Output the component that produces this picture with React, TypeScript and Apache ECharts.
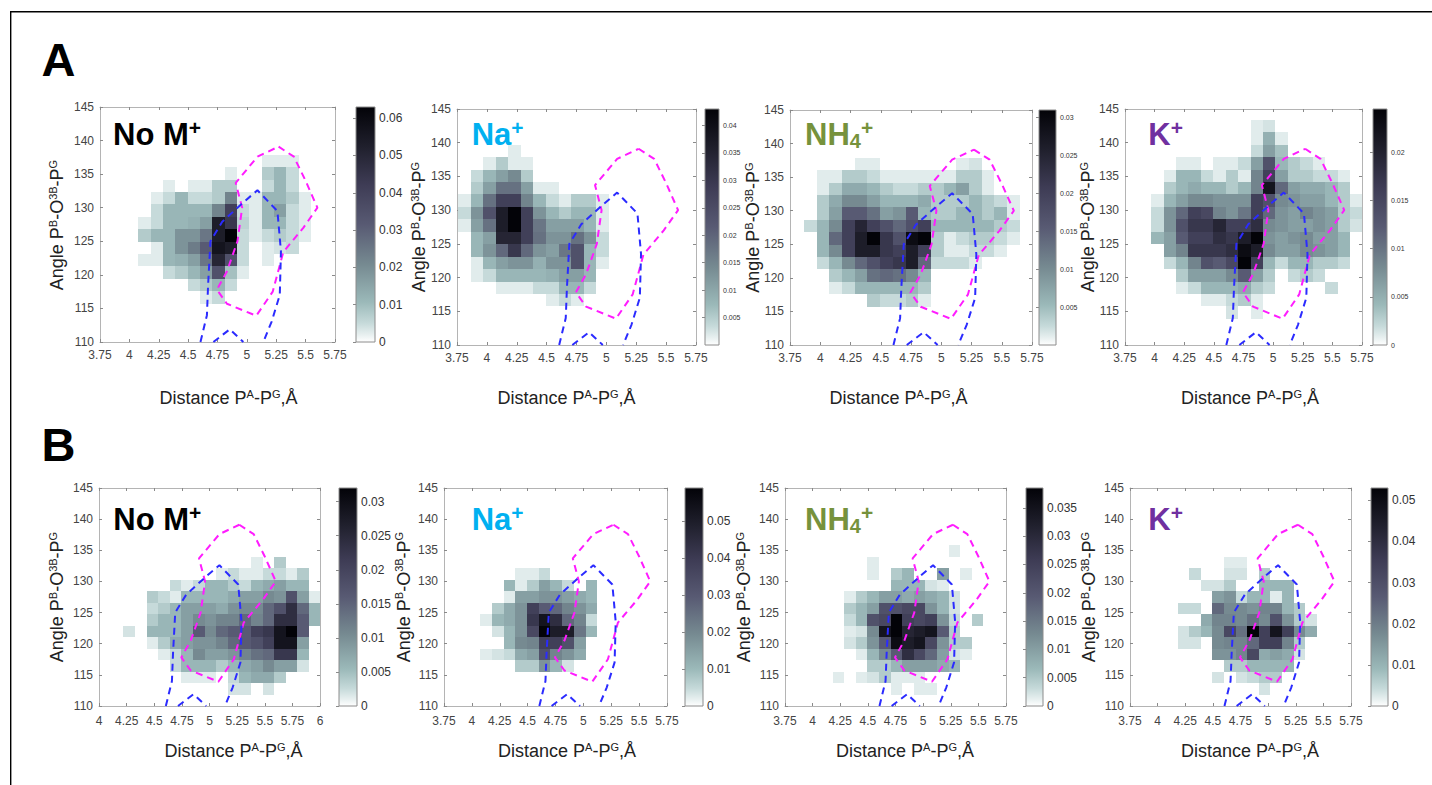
import React, { useEffect, useRef } from "react";
import * as echarts from "echarts";

const FONT = "'Liberation Sans', Arial, Helvetica, sans-serif";

// histogram bin sizes (Å, degrees)
const BIN_DX = 0.105;
const BIN_DY = 1.845;

const Y_MIN = 110;
const Y_MAX = 145;
const Y_STEP = 5;
const X_STEP = 0.25;

// dashed reference contours (distance Å, angle °)
const magentaContour = [[5.27,139.1],[5.40,137.6],[5.50,134.0],[5.60,130.0],[5.48,127.0],[5.31,123.4],[5.22,117.5],[5.08,113.9],[4.83,115.7],[4.745,117.8],[4.83,120.5],[4.92,125.0],[4.96,130.0],[4.905,133.7],[5.09,137.6],[5.27,139.1]];
const blueContour = [[4.605,110],[4.66,114.0],[4.67,118.5],[4.69,125.0],[4.79,127.9],[4.97,130.8],[5.09,132.6],[5.26,129.5],[5.29,123.5],[5.28,117.0],[5.21,113.0],[5.14,110]];
const blueContour2 = [[4.715,110],[4.855,111.9],[4.97,110]];

// panel titles
const panelNames = ["No M", "Na", "NH", "K"];
const panelColors = ["#000000", "#00B0F0", "#76923C", "#7030A0"];

// colorbar ranges
const colorbarMaxA = [0.063, 0.043, 0.031, 0.0245];
const colorbarStepA = [0.01, 0.005, 0.005, 0.005];
const colorbarMaxB = [0.032, 0.059, 0.0385, 0.053];
const colorbarStepB = [0.005, 0.01, 0.005, 0.01];

// x axis ranges
const xRangeA = [[3.75, 5.75], [3.75, 5.75], [3.75, 5.75], [3.75, 5.75]];
const xRangeB = [[4, 6], [3.75, 5.75], [3.75, 5.75], [3.75, 5.75]];

// first bin edge (x) and top bin edge (y)
const binX0A = [3.76, 3.76, 3.76, 3.76];
const binX0B = [4.01, 3.76, 3.76, 3.76];
const binTopA = 143.4;
const binTopB = 143.2;

// relative density (tenths of colorbar max); rows from top bin downward, columns from first bin
const a1Rel = [
[0,0,0,0,0,0,0,0,0,0,0,0,0,0,0,0,0,0,0],
[0,0,0,0,0,0,0,0,0,0,0,0,0,0,0,0,0,0,0],
[0,0,0,0,0,0,0,0,0,0,0,0,0,0,0,0,0,0,0],
[0,0,0,0,0,0,0,0,0,0,0,0,0,.4,.4,.4,0,0,0],
[0,0,0,0,0,0,0,0,0,0,.4,0,0,1.2,1.8,.8,0,0,0],
[0,0,0,0,0,.4,0,.4,.4,1.2,1.2,0,0,.8,1.8,.8,0,0,0],
[0,0,0,0,.4,.8,1.8,.8,.8,1.2,3.5,.4,.4,1.8,1.8,1.2,.4,0,0],
[0,0,0,0,.8,1.8,1.8,1.8,1.8,3.5,6.5,.8,.4,1.8,2.6,.8,.4,0,0],
[0,0,0,.4,.8,1.8,1.8,2,2.6,8.5,7,1,.4,1.8,1.8,.8,.4,0,0],
[0,0,0,1.2,1.8,1.8,3,3,4,8.5,10,.8,.4,.8,1.2,.8,.4,0,0],
[0,0,0,0,.4,1.8,3,3.8,5,9,8.5,.8,0,.4,.6,.8,0,0,0],
[0,0,0,.4,.4,1.8,2,2.6,4,8,5.5,.8,0,.4,0,0,0,0,0],
[0,0,0,0,0,.8,1.2,1.8,2.6,5.5,1.5,.4,0,0,0,0,0,0,0],
[0,0,0,0,0,0,0,.8,1.2,1.8,.8,0,0,0,0,0,0,0,0],
[0,0,0,0,0,0,0,0,.4,.8,0,0,0,0,0,0,0,0,0],
];

const a2Rel = [
[0,0,0,0,0,0,0,0,0,0,0,0,0,0,0,0,0,0,0],
[0,0,0,0,0,0,0,0,0,0,0,0,0,0,0,0,0,0,0],
[0,0,0,0,.4,0,0,0,0,0,0,0,0,0,0,0,0,0,0],
[0,0,.4,1.2,.4,.4,0,0,0,0,0,0,0,0,0,0,0,0,0],
[0,.8,1.8,2.6,3.3,1.2,0,0,0,0,0,0,0,0,0,0,0,0,0],
[0,1.2,2.6,4.2,4.2,2.6,.4,.4,0,0,0,0,0,0,0,0,0,0,0],
[.4,1.8,4.2,6.5,6.5,3.5,1.8,.8,.4,1.2,1.2,.4,0,0,0,0,0,0,0],
[.8,3,5.5,8.5,10,6.5,3,1.8,1.2,1.8,1.8,.4,0,0,0,0,0,0,0],
[.4,2.6,4.2,8.5,10,6.5,4,2.6,2.6,2.6,1.8,.4,0,0,0,0,0,0,0],
[0,1.8,2.6,8,8,6.5,4.2,3,3,4.2,3,.8,0,0,0,0,0,0,0],
[0,1.8,3,4.5,7,4.5,3,2.6,4,5.5,1.8,.8,0,0,0,0,0,0,0],
[0,.4,1.8,2.6,3,3,2,3,3,5.5,1.8,.4,0,0,0,0,0,0,0],
[0,.4,.8,1.8,1.8,1.8,1.8,2,2.6,2.6,1.8,0,0,0,0,0,0,0,0],
[0,0,0,.4,.4,.4,.8,.8,1.8,1.8,.8,0,0,0,0,0,0,0,0],
[0,0,0,0,0,0,0,.4,.8,.4,0,0,0,0,0,0,0,0,0],
];

const a3Rel = [
[0,0,0,0,0,0,0,0,0,0,0,0,0,0,0,0,0,0,0],
[0,0,0,0,0,0,0,0,0,0,0,0,0,0,0,0,0,0,0],
[0,0,0,0,0,0,0,0,0,0,0,0,0,0,0,0,0,0,0],
[0,0,0,0,0,.4,.4,0,0,0,0,0,0,.4,.6,0,0,0,0],
[0,0,.4,.4,1.2,1.2,.8,.4,.4,.4,.4,.4,.4,1.2,1.2,.4,0,0,0],
[0,0,.4,1.2,2.2,2.2,1.8,1.2,.8,.8,1.2,1.2,1.8,2.6,1.2,.4,0,0,0],
[0,0,1.2,2.2,3.3,3.3,2.6,1.8,1.8,1.8,2.2,1.2,1.2,1.2,1.8,1.2,.8,.4,0],
[0,0,1.2,2.6,5,5,4.2,2.6,3,5,1.8,1.2,1.2,1.8,1.8,1.2,1.8,.4,0],
[0,.8,1.8,3.3,6.5,8,6.5,5.5,4.5,5.5,6.5,1.8,1.8,1.8,1.8,1.8,1.2,.8,0],
[0,0,1.8,4.5,6.5,8.5,10,7,5.5,9.5,10,1.2,.4,.8,1.2,1.2,.8,.4,0],
[0,0,1.8,3.3,6.5,8.5,8.5,7,6.5,8.5,6.5,1.2,.4,.4,.8,.8,.4,0,0],
[0,0,.8,1.8,3.3,4.5,5.5,6.5,7,8.5,4.5,.8,.8,.8,.4,0,0,0,0],
[0,0,0,1.2,1.8,2.6,4.2,4.5,4.2,3.3,1.8,0,0,0,0,0,0,0,0],
[0,0,0,.4,.8,1.8,1.8,1.8,1.8,1.8,1.2,0,0,0,0,0,0,0,0],
[0,0,0,0,0,0,1.2,.8,.8,1.2,.4,0,0,0,0,0,0,0,0],
];

const a4Rel = [
[0,0,0,0,0,0,0,0,0,0,.4,.6,0,0,0,0,0,0,0],
[0,0,0,0,0,0,0,0,0,0,.4,2,.4,0,0,0,0,0,0],
[0,0,0,0,0,0,0,0,0,0,.8,2.6,1.5,0,0,0,0,0,0],
[0,0,0,0,.4,.4,0,.4,.4,.8,2.6,5.5,1.8,1.2,.8,.4,0,0,0],
[0,0,0,.4,1.8,1.8,.8,.4,1.2,.4,3.5,6.5,2.6,1.2,1.2,.8,.8,.4,0],
[0,0,0,1.2,1.8,2.2,1.8,1.8,1.2,1.8,3.5,9,4.5,2.6,2.2,2.2,1.8,1.2,0],
[0,0,.4,1.8,2.6,3.3,3.3,3,3,3,6.5,5.5,3.3,3,2.6,2.6,1.8,1.2,.4],
[0,0,.8,3,4.5,6.5,6,3.5,3,4,6.5,4.5,3,2.6,3.5,3,2.6,1.2,.8],
[0,0,.8,3,5.5,7,7,8,6.5,6.5,7.5,3.3,3,2.6,2.6,3,2.6,1.2,.6],
[0,0,1.8,2.6,5,6.5,6.5,7.5,7,8.5,10,3,2.6,3,3.3,2.6,2.6,1.8,0],
[0,0,0,2.6,3.5,7,7,7,7.5,9.5,8.5,3.3,2.6,2.6,3.3,3,2.6,1.8,0],
[0,0,0,.8,1.8,3.5,5.5,5,6,10,6.5,1.8,.8,1.8,1.8,1.2,1.2,.8,0],
[0,0,0,0,1.2,2.6,2.6,2.6,3.3,5,2.6,1.2,0,.8,1.2,.8,0,0,0],
[0,0,0,0,.4,.8,1.8,1.8,1.8,2.2,1.2,.8,0,0,0,0,.8,0,0],
[0,0,0,0,0,0,.4,.4,.8,1.2,.4,0,0,0,0,0,0,0,0],
[0,0,0,0,0,0,0,0,.6,0,.4,0,0,0,0,0,0,0,0],
];

const b1Rel = [
[0,0,0,0,0,0,0,0,0,0,0,0,0,0,0,0,0,0,0],
[0,0,0,0,0,0,0,0,0,0,0,0,0,0,0,0,0,0,0],
[0,0,0,0,0,0,0,0,0,0,0,0,0,0,0,0,0,0,0],
[0,0,0,0,0,0,0,0,0,0,0,0,0,0,0,0,0,0,0],
[0,0,0,0,0,0,0,0,0,0,0,0,0,0,0,0,0,0,0],
[0,0,0,0,0,0,0,0,0,0,0,0,0,.4,0,1.2,0,0,0],
[0,0,0,0,0,0,0,0,0,0,.4,.8,.4,.4,.8,.8,.4,1.2,0],
[0,0,0,0,0,0,.8,.4,.8,1.8,1.8,1.2,.8,1.8,2.2,2.6,1.8,1.8,0],
[0,0,0,0,1.2,.8,.4,1.8,1.8,1.8,1.8,2.2,2.6,2.6,3.3,3,5.5,2.6,.4],
[0,0,0,0,.8,1.2,1.8,2.6,2.6,2.6,2.2,3,3.3,3.3,4.5,5.5,7.5,4.5,1.8],
[0,0,0,0,1.2,1.8,1.8,2.6,3.3,3,3.5,3.5,4.5,3.5,4.5,7.5,7.5,5,1.8],
[0,0,.6,0,1.8,1.8,1.8,2.6,5,3.3,4.5,5,5,6.5,7,9,10,5,0],
[0,0,0,0,.4,1.2,2.2,2.6,3,3,3.5,4.5,5,5.5,6.5,9,9,2.6,0],
[0,0,0,0,0,.4,.8,1.8,3.3,2.6,2.6,3,3.5,4.2,4.5,7,7,1.8,0],
[0,0,0,0,0,0,.8,1.8,1.8,1.8,1.2,1.8,2.2,2.6,3.3,2.6,2.6,.6,0],
[0,0,0,0,0,0,0,.4,.4,.4,0,.8,1.8,2.2,2.2,1.2,0,0,0],
[0,0,0,0,0,0,0,0,0,0,0,.6,.6,0,.6,0,0,0,0],
];

const b2Rel = [
[0,0,0,0,0,0,0,0,0,0,0,0,0,0,0,0,0,0,0],
[0,0,0,0,0,0,0,0,0,0,0,0,0,0,0,0,0,0,0],
[0,0,0,0,0,0,0,0,0,0,0,0,0,0,0,0,0,0,0],
[0,0,0,0,0,0,0,0,0,0,0,0,0,0,0,0,0,0,0],
[0,0,0,0,0,0,0,0,0,0,0,0,0,0,0,0,0,0,0],
[0,0,0,0,0,0,0,0,0,0,0,0,0,0,0,0,0,0,0],
[0,0,0,0,0,0,.4,.4,.8,0,0,0,0,0,0,0,0,0,0],
[0,0,0,0,0,1.8,.4,1.2,2.6,1.8,.8,0,1.8,0,0,0,0,0,0],
[0,0,0,0,0,.4,2.6,2.6,3,3,2.6,2.2,1.8,0,0,0,0,0,0],
[0,0,0,0,1.2,2.2,3,6.5,5,4.5,3.5,3,2.2,0,0,0,0,0,0],
[0,0,0,.4,1.8,2.2,3,7,9,7.5,4.5,3.5,.8,0,0,0,0,0,0],
[0,0,0,0,.6,1.8,3,6,10,8.5,8.5,4,1.8,0,0,0,0,0,0],
[0,0,0,0,0,1.8,3.3,3.5,6.5,6.5,5.5,2.6,0,0,0,0,0,0,0],
[0,0,0,.4,.6,.8,2.2,2.6,5.5,3.5,3,2.2,0,0,0,0,0,0,0],
[0,0,0,0,0,0,1.2,1.2,3,1.8,.6,0,0,0,0,0,0,0,0],
];

const b3Rel = [
[0,0,0,0,0,0,0,0,0,0,0,0,0,0,0,0,0,0,0],
[0,0,0,0,0,0,0,0,0,0,0,0,0,0,0,0,0,0,0],
[0,0,0,0,0,0,0,0,0,0,0,0,0,0,0,0,0,0,0],
[0,0,0,0,0,0,0,0,0,0,0,0,0,0,0,0,0,0,0],
[0,0,0,0,0,0,0,0,0,0,0,0,0,0,.4,0,0,0,0],
[0,0,0,0,0,0,0,.4,0,0,0,0,0,0,0,0,0,0,0],
[0,0,0,0,0,0,0,.4,0,1.2,1.8,0,0,2.6,0,.4,0,0,0],
[0,0,0,0,0,0,0,0,0,1.8,1.8,1.8,.6,.4,0,0,0,0,0],
[0,0,0,0,0,.4,1.2,1.8,2.6,2.6,2.2,2.6,2.2,1.8,.6,0,0,0,0],
[0,0,0,0,0,1.2,1.8,2.6,5.5,5.5,6,6,3,1.8,.6,0,0,0,0],
[0,0,0,0,0,.8,1.8,5.5,6,10,6.5,6,6.5,3,.8,0,1.2,0,0],
[0,0,0,0,0,.4,.6,3.3,9,10,8,8.5,9,5,1.2,0,0,0,0],
[0,0,0,0,0,.6,1.2,3,5,9.5,8.5,9,6,3,1.2,1.2,0,0,0],
[0,0,0,0,0,0,.4,1.8,3.3,5,7.5,6,4.5,2.6,.6,.4,0,0,0],
[0,0,0,0,0,0,0,1.2,1.2,1.8,2.6,2.6,2.6,2.2,1.8,0,0,0,0],
[0,0,0,0,.4,0,.4,.6,1.2,.4,.4,.4,0,0,0,0,0,0,0],
[0,0,0,0,0,0,0,0,0,.4,0,.4,.4,0,0,0,0,0,0],
];

const b4Rel = [
[0,0,0,0,0,0,0,0,0,0,0,0,0,0,0,0,0,0,0],
[0,0,0,0,0,0,0,0,0,0,0,0,0,0,0,0,0,0,0],
[0,0,0,0,0,0,0,0,0,0,0,0,0,0,0,0,0,0,0],
[0,0,0,0,0,0,0,0,0,0,0,0,0,0,0,0,0,0,0],
[0,0,0,0,0,0,0,0,0,0,0,0,0,0,0,0,0,0,0],
[0,0,0,0,0,0,0,0,.4,.4,0,0,0,0,0,0,0,0,0],
[0,0,0,0,0,.8,0,0,.6,.6,0,1.2,0,0,0,0,0,0,0],
[0,0,0,0,0,0,.6,.6,1.2,0,0,1.8,1.8,1.8,0,0,0,0,0],
[0,0,0,0,0,0,0,2.6,3,.8,1.8,1.8,.4,1.8,0,0,0,0,0],
[0,0,0,0,.8,.8,0,4.5,3.3,3.3,3,3.5,3.5,1.8,1.2,0,0,0,0],
[0,0,0,0,0,0,2.2,3.5,3.5,3.3,4.2,3.3,5.5,3,1.2,.6,0,0,0],
[0,0,0,0,.6,1.2,1.8,3.3,6,4.2,10,6.5,9,6.5,3.3,2.2,0,0,0],
[0,0,0,0,.6,.6,0,3.3,3.5,3.5,4.5,6.5,6.5,3.5,1.2,0,0,0,0],
[0,0,0,0,0,0,0,3,3,3.5,6,2.2,2.6,2.2,.6,0,0,0,0],
[0,0,0,0,0,0,0,0,1.2,1.2,1.8,1.8,1.8,1.8,0,0,0,0,0],
[0,0,0,0,0,0,0,.6,0,.6,.8,1.2,1.2,0,0,0,0,0,0],
[0,0,0,0,0,0,0,0,0,0,0,.6,0,0,0,0,0,0,0],
];

// colormap (inverted bone-like)
const CMAP: [number, number[]][] = [
  [0, [255, 255, 255]],
  [0.03, [232, 240, 240]],
  [0.08, [198, 218, 218]],
  [0.17, [155, 185, 185]],
  [0.33, [118, 138, 145]],
  [0.5, [88, 90, 115]],
  [0.67, [62, 60, 85]],
  [0.83, [32, 32, 45]],
  [1, [3, 3, 8]],
];

function rgb(c: number[]) {
  return `rgb(${Math.round(c[0])},${Math.round(c[1])},${Math.round(c[2])})`;
}
function cmap(t: number): string {
  const v = Math.max(0, Math.min(1, t));
  for (let i = 1; i < CMAP.length; i++) {
    const [t0, c0] = CMAP[i - 1];
    const [t1, c1] = CMAP[i];
    if (v <= t1) {
      const f = (v - t0) / (t1 - t0);
      return rgb([0, 1, 2].map((k) => c0[k] + (c1[k] - c0[k]) * f));
    }
  }
  return rgb(CMAP[CMAP.length - 1][1]);
}

// layout (pixels)
const LAYOUT = [
  { l: 100, t: 107, w: 235, h: 235, cl: 356, cw: 19, cfs: 12, zero: true, tx: 113, ty: 134.3, xt: [228.5, 398], yt: [57, 225], xm: 7 },
  { l: 457, t: 109, w: 239, h: 236, cl: 705, cw: 14, cfs: 7, zero: false, tx: 471.7, ty: 134.3, xt: [566.5, 398], yt: [419, 227], xm: 7 },
  { l: 790, t: 110, w: 242, h: 235, cl: 1039, cw: 17, cfs: 7, zero: false, tx: 805, ty: 134.3, xt: [898.5, 398], yt: [753, 227.5], xm: 7 },
  { l: 1125, t: 109, w: 237, h: 236, cl: 1373, cw: 14, cfs: 7, zero: true, tx: 1148.3, ty: 134.3, xt: [1250, 398], yt: [1088, 227], xm: 7 },
  { l: 99, t: 488, w: 221, h: 218, cl: 339, cw: 18, cfs: 12, zero: true, tx: 113.3, ty: 519.3, xt: [233.5, 751], yt: [57, 597], xm: 9 },
  { l: 444, t: 488, w: 223, h: 218, cl: 685, cw: 18, cfs: 12, zero: true, tx: 471.7, ty: 519.3, xt: [567, 751], yt: [403.5, 597], xm: 9 },
  { l: 785, t: 488, w: 221, h: 218, cl: 1026, cw: 17, cfs: 12, zero: true, tx: 805, ty: 519.3, xt: [905, 751], yt: [744, 597], xm: 9 },
  { l: 1130, t: 488, w: 221, h: 218, cl: 1371, cw: 17, cfs: 12, zero: true, tx: 1148.3, ty: 519.3, xt: [1250, 751], yt: [1089, 597], xm: 9 },
];

const AXIS_COLOR = "#b4b4b4";
const TICK_COLOR = "#8a8a8a";
const LABEL_COLOR = "#444";

function buildCells(rel: number[][], x0: number, top0: number, max: number) {
  const out: number[][] = [];
  rel.forEach((row, r) =>
    row.forEach((v, c) => {
      if (v > 0) out.push([x0 + c * BIN_DX, top0 - (r + 1) * BIN_DY, (v * max) / 10]);
    })
  );
  return out;
}

function buildOption() {
  const relAll = [a1Rel, a2Rel, a3Rel, a4Rel, b1Rel, b2Rel, b3Rel, b4Rel];
  const panels = relAll.map((rel, i) => {
    const isA = i < 4;
    const k = i % 4;
    return {
      rel,
      kind: k,
      max: isA ? colorbarMaxA[k] : colorbarMaxB[k],
      step: isA ? colorbarStepA[k] : colorbarStepB[k],
      xr: isA ? xRangeA[k] : xRangeB[k],
      x0: isA ? binX0A[k] : binX0B[k],
      top0: isA ? binTopA : binTopB,
    };
  });

  const grid: any[] = [];
  const xAxis: any[] = [];
  const yAxis: any[] = [];
  const series: any[] = [];
  const graphic: any[] = [];

  const gradStops = CMAP.map(([t, c]) => ({ offset: 1 - t, color: rgb(c) })).reverse();

  panels.forEach((p, i) => {
    const L = LAYOUT[i];
    const gi = grid.length;
    grid.push({ left: L.l, top: L.t, width: L.w, height: L.h, outerBoundsMode: "none", containLabel: false });
    const baseX = {
      gridIndex: gi,
      type: "value",
      min: p.xr[0],
      max: p.xr[1],
      interval: X_STEP,
      splitLine: { show: false },
      axisLine: { show: true, onZero: false, lineStyle: { color: AXIS_COLOR, width: 1 } },
      axisTick: { show: true, inside: true, length: 3, lineStyle: { color: TICK_COLOR } },
    };
    const baseY = {
      gridIndex: gi,
      type: "value",
      min: Y_MIN,
      max: Y_MAX,
      interval: Y_STEP,
      splitLine: { show: false },
      axisLine: { show: true, onZero: false, lineStyle: { color: AXIS_COLOR, width: 1 } },
      axisTick: { show: true, inside: true, length: 3, lineStyle: { color: TICK_COLOR } },
    };
    const xi = xAxis.length;
    xAxis.push({ ...baseX, position: "bottom", axisLabel: { fontSize: 12, color: LABEL_COLOR, fontFamily: FONT, margin: L.xm } });
    xAxis.push({ ...baseX, position: "top", axisLabel: { show: false } });
    const yi = yAxis.length;
    yAxis.push({ ...baseY, position: "left", axisLabel: { fontSize: 12, color: LABEL_COLOR, fontFamily: FONT, margin: 6 } });
    yAxis.push({ ...baseY, position: "right", axisLabel: { show: false } });

    const max = p.max;
    series.push({
      type: "custom",
      xAxisIndex: xi,
      yAxisIndex: yi,
      data: buildCells(p.rel, p.x0, p.top0, max),
      z: 2,
      silent: true,
      renderItem: (params: any, api: any) => {
        const x = api.value(0);
        const y = api.value(1);
        const v = api.value(2);
        const p0 = api.coord([x, y + BIN_DY]);
        const p1 = api.coord([x + BIN_DX, y]);
        const x0 = Math.round(p0[0]);
        const x1 = Math.round(p1[0]);
        const y0 = Math.round(p0[1]);
        const y1 = Math.round(p1[1]);
        const cs = params.coordSys;
        const shape = echarts.graphic.clipRectByRect(
          { x: x0, y: y0, width: x1 - x0, height: y1 - y0 },
          { x: cs.x, y: cs.y, width: cs.width, height: cs.height }
        );
        if (!shape) return null;
        return { type: "rect", shape, style: { fill: cmap(v / max) } };
      },
    });
    const lineCommon = {
      type: "line",
      xAxisIndex: xi,
      yAxisIndex: yi,
      showSymbol: false,
      symbol: "none",
      clip: true,
      silent: true,
      z: 4,
    };
    series.push({ ...lineCommon, data: magentaContour, lineStyle: { color: "#ff1cff", width: 2, type: [7, 5] } });
    series.push({ ...lineCommon, data: blueContour, lineStyle: { color: "#2b2bff", width: 2, type: [7, 5] } });
    series.push({ ...lineCommon, data: blueContour2, lineStyle: { color: "#2b2bff", width: 2, type: [7, 5] } });

    // colorbar
    const ci = grid.length;
    grid.push({ left: L.cl, top: L.t, width: L.cw, height: L.h, outerBoundsMode: "none", containLabel: false });
    const cxi = xAxis.length;
    xAxis.push({ gridIndex: ci, type: "value", min: 0, max: 1, show: false });
    const cyi = yAxis.length;
    yAxis.push({
      gridIndex: ci,
      type: "value",
      min: 0,
      max: p.max,
      interval: p.step,
      position: "right",
      splitLine: { show: false },
      axisLine: { show: false },
      axisTick: { show: true, inside: true, length: 3, lineStyle: { color: TICK_COLOR } },
      axisLabel: {
        fontSize: L.cfs,
        color: "#333",
        fontFamily: FONT,
        margin: 4,
        showMaxLabel: false,
        showMinLabel: L.zero,
      },
    });
    series.push({
      type: "custom",
      xAxisIndex: cxi,
      yAxisIndex: cyi,
      data: [[0, p.max]],
      silent: true,
      z: 1,
      renderItem: (params: any, api: any) => {
        const p0 = api.coord([0, api.value(1)]);
        const p1 = api.coord([1, 0]);
        return {
          type: "rect",
          shape: { x: p0[0], y: p0[1], width: p1[0] - p0[0], height: p1[1] - p0[1] },
          style: {
            fill: new echarts.graphic.LinearGradient(0, 0, 0, 1, gradStops),
            stroke: "#8c8c8c",
            lineWidth: 1,
          },
        };
      },
    });

    // panel title
    const color = panelColors[p.kind];
    const mainStyle = { fontSize: 31, fontWeight: "bold", fontFamily: FONT, fill: color, color, lineHeight: 34 };
    const supStyle = { fontSize: 21, fontWeight: "bold", fontFamily: FONT, fill: color, color, lineHeight: 26, verticalAlign: "top" };
    const subStyle = { fontSize: 20, fontWeight: "bold", fontFamily: FONT, fill: color, color, lineHeight: 10, verticalAlign: "bottom" };
    const titleText = p.kind === 2 ? `{m|${panelNames[p.kind]}}{b|4}{p|+}` : `{m|${panelNames[p.kind]}}{p|+}`;
    graphic.push({
      type: "text",
      x: L.tx,
      y: L.ty,
      style: {
        text: titleText,
        rich: { m: mainStyle, p: supStyle, b: subStyle },
        align: "left",
        verticalAlign: "middle",
        textAlign: "left",
        textVerticalAlign: "middle",
      },
    });

    // axis titles
    const richTitle = {
      t: { fontSize: 18, fontFamily: FONT, fill: "#222", color: "#222", lineHeight: 20 },
      s: { fontSize: 11, fontFamily: FONT, fill: "#222", color: "#222", lineHeight: 14, verticalAlign: "top" },
    };
    graphic.push({
      type: "text",
      x: L.xt[0],
      y: L.xt[1],
      style: {
        text: "{t|Distance P}{s|A}{t|-P}{s|G}{t|,Å}",
        rich: richTitle,
        align: "center",
        verticalAlign: "middle",
        textAlign: "center",
        textVerticalAlign: "middle",
      },
    });
    graphic.push({
      type: "text",
      x: L.yt[0],
      y: L.yt[1],
      rotation: Math.PI / 2,
      style: {
        text: "{t|Angle P}{s|B}{t|-O}{s|3B}{t|-P}{s|G}",
        rich: richTitle,
        align: "center",
        verticalAlign: "middle",
        textAlign: "center",
        textVerticalAlign: "middle",
      },
    });
  });

  // figure letters and frame
  graphic.push({
    type: "text",
    x: 41.5,
    y: 59.7,
    style: { text: "A", font: `bold 47px ${FONT}`, fill: "#000", align: "left", verticalAlign: "middle", textAlign: "left", textVerticalAlign: "middle" },
  });
  graphic.push({
    type: "text",
    x: 41.5,
    y: 444.7,
    style: { text: "B", font: `bold 47px ${FONT}`, fill: "#000", align: "left", verticalAlign: "middle", textAlign: "left", textVerticalAlign: "middle" },
  });
  graphic.push({ type: "line", shape: { x1: 10, y1: 11.7, x2: 1432, y2: 11.7 }, style: { stroke: "#000", lineWidth: 1.4 } });
  graphic.push({ type: "line", shape: { x1: 10.7, y1: 11, x2: 10.7, y2: 785 }, style: { stroke: "#000", lineWidth: 1.4 } });

  return {
    animation: false,
    backgroundColor: "#ffffff",
    textStyle: { fontFamily: FONT },
    grid,
    xAxis,
    yAxis,
    series,
    graphic,
  };
}

export default function App() {
  const ref = useRef<HTMLDivElement>(null);
  useEffect(() => {
    if (!ref.current) return;
    const chart = echarts.init(ref.current, null, { renderer: "svg" });
    chart.setOption(buildOption() as any);
    return () => {
      chart.dispose();
    };
  }, []);
  return (
    <div
      ref={ref}
      style={{ position: "absolute", left: 0, top: 0, width: 1432, height: 785, background: "#fff" }}
    />
  );
}
